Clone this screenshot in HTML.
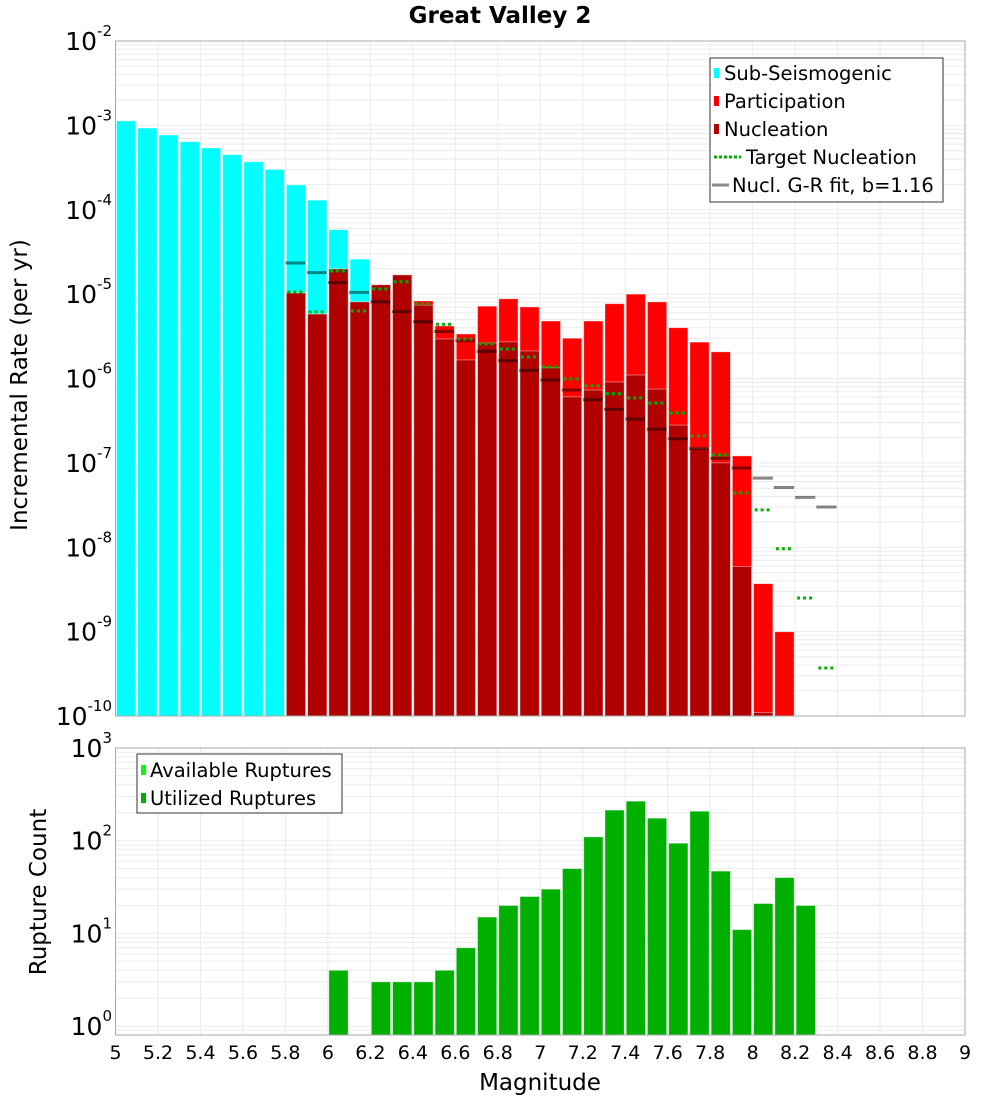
<!DOCTYPE html>
<html><head><meta charset="utf-8"><style>
html,body{margin:0;padding:0;background:#fff;}
svg{display:block;font-family:"DejaVu Sans","Liberation Sans",sans-serif;}
</style></head><body>
<svg id="c" width="1000" height="1100" viewBox="0 0 1000 1100" xmlns="http://www.w3.org/2000/svg">
<text x="500" y="23" text-anchor="middle" font-size="23" font-weight="bold">Great Valley 2</text>
<g id="topg"></g>
<g id="botg"></g>
<text transform="translate(27,385) rotate(-90)" text-anchor="middle" font-size="23">Incremental Rate (per yr)</text>
<text transform="translate(46,892) rotate(-90)" text-anchor="middle" font-size="23">Rupture Count</text>
<text x="540" y="1090" text-anchor="middle" font-size="23">Magnitude</text>
<g>
<rect x="710" y="58" width="233" height="144" fill="#fff" stroke="#333" stroke-width="1"/>
<rect x="714" y="68" width="5" height="10" fill="#00ffff"/>
<text x="724" y="80" font-size="19.5">Sub-Seismogenic</text>
<rect x="714" y="96" width="5" height="10" fill="#ff0000"/>
<text x="724" y="108" font-size="19.5">Participation</text>
<rect x="714" y="124" width="5" height="10" fill="#b00000"/>
<text x="724" y="136" font-size="19.5">Nucleation</text>
<line x1="714" y1="157" x2="741" y2="157" stroke="#00b000" stroke-width="3" stroke-dasharray="3,2"/>
<text x="746" y="164" font-size="19.5">Target Nucleation</text>
<line x1="712" y1="185" x2="729" y2="185" stroke="#888" stroke-width="3"/>
<text x="732" y="192" font-size="19.5">Nucl. G-R fit, b=1.16</text>
</g>
<g>
<rect x="137" y="754" width="205" height="59" fill="#fff" stroke="#333" stroke-width="1"/>
<rect x="141" y="765" width="5" height="10" fill="#00ff00"/>
<text x="150" y="777" font-size="19.5">Available Ruptures</text>
<rect x="141" y="793" width="5" height="10" fill="#00b000"/>
<text x="150" y="805" font-size="19.5">Utilized Ruptures</text>
</g>
</svg>
<script>
// bin centers (magnitude)
const subMags = [5.05,5.15,5.25,5.35,5.45,5.55,5.65,5.75,5.85,5.95,6.05,6.15];
const subRates = [1.13e-3,9.3e-4,7.7e-4,6.4e-4,5.4e-4,4.5e-4,3.7e-4,3.0e-4,1.97e-4,1.3e-4,5.8e-5,2.6e-5];
const faultMags = [5.85,5.95,6.05,6.15,6.25,6.35,6.45,6.55,6.65,6.75,6.85,6.95,7.05,7.15,7.25,7.35,7.45,7.55,7.65,7.75,7.85,7.95,8.05,8.15];
const partRates = [1.03e-5,5.8e-6,1.99e-5,8.1e-6,1.29e-5,1.69e-5,8.3e-6,4.2e-6,3.37e-6,7.2e-6,8.8e-6,7.05e-6,4.8e-6,3.0e-6,4.8e-6,7.7e-6,1.0e-5,8.1e-6,4.0e-6,2.7e-6,2.07e-6,1.21e-7,3.7e-9,9.95e-10];
const nuclRates = [1.03e-5,5.8e-6,1.99e-5,8.1e-6,1.29e-5,1.69e-5,7.4e-6,2.94e-6,1.66e-6,2.64e-6,2.72e-6,2.12e-6,1.34e-6,6.05e-7,7.3e-7,9.1e-7,1.1e-6,7.5e-7,2.8e-7,1.5e-7,1.0e-7,5.9e-9,1.1e-10,0];
const targetMags = [5.85,5.95,6.05,6.15,6.25,6.35,6.45,6.55,6.65,6.75,6.85,6.95,7.05,7.15,7.25,7.35,7.45,7.55,7.65,7.75,7.85,7.95,8.05,8.15,8.25,8.35];
const targetRates = [1.06e-5,6.15e-6,1.88e-5,6.3e-6,1.15e-5,1.4e-5,7.7e-6,4.4e-6,2.94e-6,2.57e-6,2.24e-6,1.8e-6,1.37e-6,9.9e-7,8.2e-7,6.6e-7,5.9e-7,5.1e-7,3.9e-7,2.09e-7,1.24e-7,4.4e-8,2.77e-8,9.6e-9,2.5e-9,3.7e-10];
const grRates = [2.34e-5,1.8e-5,1.37e-5,1.05e-5,8.1e-6,6.2e-6,4.7e-6,3.6e-6,2.8e-6,2.1e-6,1.63e-6,1.25e-6,9.6e-7,7.3e-7,5.6e-7,4.3e-7,3.3e-7,2.5e-7,1.93e-7,1.48e-7,1.13e-7,8.7e-8,6.6e-8,5.1e-8,3.9e-8,3.0e-8];
const countMags = [6.05,6.25,6.35,6.45,6.55,6.65,6.75,6.85,6.95,7.05,7.15,7.25,7.35,7.45,7.55,7.65,7.75,7.85,7.95,8.05,8.15,8.25];
const counts = [4,3,3,3,4,7,15,20,25,30,50,110,214,267,175,94,208,47,11,21,40,20];
const xTicks = ["5","5.2","5.4","5.6","5.8","6","6.2","6.4","6.6","6.8","7","7.2","7.4","7.6","7.8","8","8.2","8.4","8.6","8.8","9"];

const NS="http://www.w3.org/2000/svg";
const X0=115.5,X1=965,XMIN=5,XMAX=9;
const xs=m=>X0+(m-XMIN)/(XMAX-XMIN)*(X1-X0);
const BW=(X1-X0)/40;
const T0=41,T1=716; const yT=v=>T0+(-2-Math.log10(v))/8*(T1-T0);
const B0=748,B1=1035,BD=92.7; const yB=v=>B0+(3-Math.log10(v))*BD;
function mk(p,tag,a){const e=document.createElementNS(NS,tag);for(const k in a)e.setAttribute(k,a[k]);p.appendChild(e);return e;}
const topG=document.getElementById('topg'),botG=document.getElementById('botg');

function grid(g,y0,y1,yf,dmin,dmax){
  for(let d=dmin;d<dmax;d++)for(let k=1;k<10;k++){const v=k*Math.pow(10,d);const yy=yf(v);if(yy<y0-0.1||yy>y1+0.1)continue;
    const l=mk(g,'line',{x1:X0,x2:X1,y1:yy,y2:yy,stroke:'#ebebeb','stroke-width':1});
    
    }
  for(let i=1;i<20;i++){const xx=xs(5+i*0.2);
    const l=mk(g,'line',{x1:xx,x2:xx,y1:y0,y2:y1,stroke:'#ebebeb','stroke-width':1});
    
    }
}
grid(topG,T0,T1,yT,-10,-1);
grid(botG,B0,B1,yB,-1,3);

function bar(g,m,v,yf,base,fill,name){
  if(!(v>0))return;const yy=Math.max(yf(v),0);
  const r=mk(g,'rect',{x:xs(m)-BW/2+1,y:yy,width:BW-2,height:Math.max(base-yy,0),fill:fill,stroke:'rgba(255,255,255,0.5)','stroke-width':0.8});
  
  
}
subMags.forEach((m,i)=>bar(topG,m,subRates[i],yT,T1,'#00ffff','bar-subseismogenic'));
faultMags.forEach((m,i)=>bar(topG,m,partRates[i],yT,T1,'#ff0000','bar-participation'));
faultMags.forEach((m,i)=>bar(topG,m,nuclRates[i],yT,T1,'#b00000','bar-nucleation'));
targetMags.forEach((m,i)=>{const yy=yT(grRates[i]);
  const l=mk(topG,'line',{x1:xs(m)-BW/2,x2:xs(m)+BW/2-1,y1:yy,y2:yy,stroke:'rgba(0,0,0,0.47)','stroke-width':3});
  
  });
targetMags.forEach((m,i)=>{const yy=yT(targetRates[i]);
  const l=mk(topG,'line',{x1:xs(m)-BW/2+2,x2:xs(m)+BW/2-4,y1:yy,y2:yy,stroke:'#00b000','stroke-width':3,'stroke-dasharray':'3,3'});
  
  });
countMags.forEach((m,i)=>bar(botG,m,counts[i],yB,B1,'#00b000','bar-utilized-ruptures'));

mk(topG,'rect',{x:X0,y:T0,width:X1-X0,height:T1-T0,fill:'none',stroke:'#aaa','stroke-width':1});
mk(botG,'rect',{x:X0,y:B0,width:X1-X0,height:B1-B0,fill:'none',stroke:'#aaa','stroke-width':1});

function ylab(g,d,yy){const t=mk(g,'text',{x:112,y:yy+9,'text-anchor':'end','font-size':25});
  
  
  t.appendChild(document.createTextNode('10'));
  const s=document.createElementNS(NS,'tspan');s.setAttribute('font-size','15');s.setAttribute('dy','-14');s.textContent=String(d);t.appendChild(s);}
for(let d=-2;d>=-10;d--)ylab(topG,d,yT(Math.pow(10,d)));
for(let d=0;d<=3;d++)ylab(botG,d,yB(Math.pow(10,d)));
xTicks.forEach(s=>{const t=mk(botG,'text',{x:xs(parseFloat(s)),y:1059,'text-anchor':'middle','font-size':19});
  
  
  t.textContent=s;});
</script>
</body></html>
